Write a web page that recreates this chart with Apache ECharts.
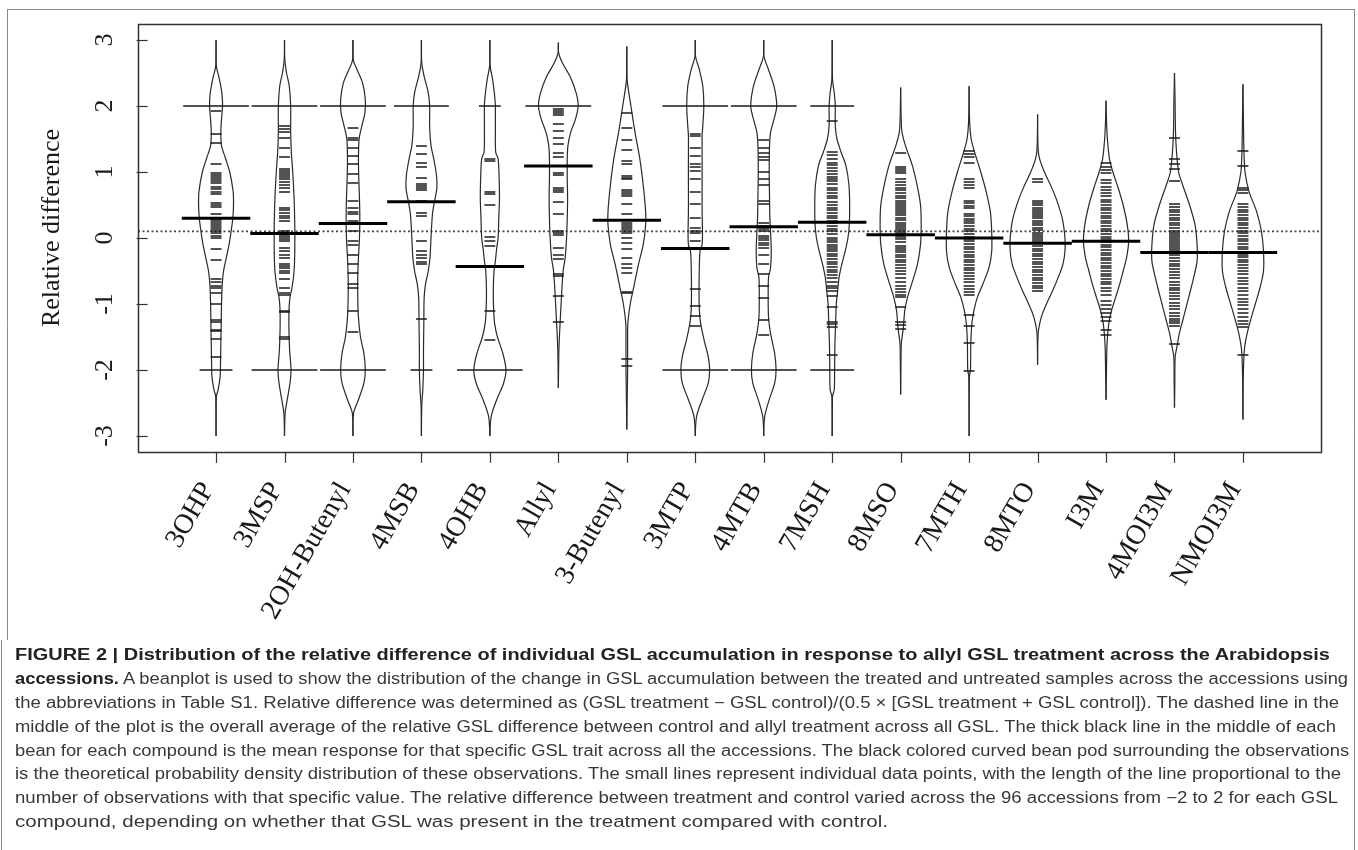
<!DOCTYPE html>
<html><head><meta charset="utf-8">
<script src="https://cdn.jsdelivr.net/npm/echarts@6/dist/echarts.min.js"></script>
<style>
html,body{margin:0;padding:0;background:#fff;}
#wrap{position:relative;width:1358px;height:850px;overflow:hidden;background:#fff;}
#chart{position:absolute;left:0;top:0;width:1358px;height:850px;}
.cap{position:absolute;left:15px;white-space:nowrap;font-family:"Liberation Sans",Arial,sans-serif;font-size:16px;color:#383838;transform-origin:0 50%;line-height:20px;height:20px;}
.cap b{color:#222;}
</style></head>
<body>
<div id="wrap">
<div id="chart"></div>
<div class="cap" id="c1" data-end="1330" style="top:645px"><b>FIGURE 2 | Distribution of the relative difference of individual GSL accumulation in response to allyl GSL treatment across the Arabidopsis</b></div>
<div class="cap" id="c2" data-end="1348" style="top:669px"><b>accessions.</b> A beanplot is used to show the distribution of the change in GSL accumulation between the treated and untreated samples across the accessions using</div>
<div class="cap" id="c3" data-end="1339" style="top:693px">the abbreviations in Table S1. Relative difference was determined as (GSL treatment − GSL control)/(0.5 × [GSL treatment + GSL control]). The dashed line in the</div>
<div class="cap" id="c4" data-end="1336" style="top:717px">middle of the plot is the overall average of the relative GSL difference between control and allyl treatment across all GSL. The thick black line in the middle of each</div>
<div class="cap" id="c5" data-end="1349" style="top:741px">bean for each compound is the mean response for that specific GSL trait across all the accessions. The black colored curved bean pod surrounding the observations</div>
<div class="cap" id="c6" data-end="1341" style="top:764px">is the theoretical probability density distribution of these observations. The small lines represent individual data points, with the length of the line proportional to the</div>
<div class="cap" id="c7" data-end="1338" style="top:788px">number of observations with that specific value. The relative difference between treatment and control varied across the 96 accessions from −2 to 2 for each GSL</div>
<div class="cap" id="c8" data-end="888" style="top:812px">compound, depending on whether that GSL was present in the treatment compared with control.</div>
</div>
<script>
// ---------------- data ----------------
const categories = ['3OHP','3MSP','2OH-Butenyl','4MSB','4OHB','Allyl','3-Butenyl','3MTP','4MTB','7MSH','8MSO','7MTH','8MTO','I3M','4MOI3M','NMOI3M'];
const yTicks = [-3,-2,-1,0,1,2,3];
const beanMeans = [0.30,0.07,0.22,0.55,-0.43,1.09,0.27,-0.16,0.17,0.24,0.05,0.0,-0.08,-0.05,-0.22,-0.22];
const overallMean = 0.1;

// density outline of each bean: [value, half width]
const beanDensity = [
 [[3.0,0],[2.6,0.005],[2.45,0.04],[2.2,0.085],[2.0,0.095],[1.8,0.08],[1.6,0.07],[1.4,0.08],[1.2,0.14],[1.0,0.2],[0.7,0.25],[0.5,0.255],[0.3,0.245],[0.1,0.22],[-0.1,0.19],[-0.3,0.15],[-0.5,0.11],[-0.7,0.09],[-1.0,0.08],[-1.3,0.075],[-1.6,0.07],[-1.9,0.065],[-2.1,0.06],[-2.3,0.03],[-2.4,0.005],[-3.0,0]],
 [[3.0,0],[2.7,0.005],[2.5,0.03],[2.3,0.07],[2.0,0.09],[1.6,0.09],[1.3,0.1],[1.0,0.12],[0.6,0.14],[0.2,0.15],[-0.2,0.15],[-0.5,0.14],[-0.75,0.11],[-0.9,0.08],[-1.1,0.065],[-1.4,0.065],[-1.7,0.075],[-2.0,0.095],[-2.2,0.08],[-2.45,0.04],[-2.65,0.01],[-3.0,0]],
 [[3.0,0],[2.7,0.005],[2.55,0.06],[2.35,0.14],[2.1,0.18],[1.9,0.175],[1.7,0.13],[1.5,0.09],[1.2,0.08],[0.9,0.085],[0.6,0.095],[0.3,0.1],[0.0,0.095],[-0.3,0.08],[-0.6,0.07],[-0.9,0.07],[-1.2,0.08],[-1.5,0.11],[-1.75,0.16],[-2.0,0.18],[-2.2,0.16],[-2.45,0.08],[-2.65,0.01],[-3.0,0]],
 [[3.0,0],[2.65,0.005],[2.45,0.04],[2.2,0.1],[2.0,0.12],[1.7,0.12],[1.4,0.14],[1.2,0.18],[0.95,0.22],[0.75,0.225],[0.55,0.19],[0.35,0.16],[0.0,0.14],[-0.3,0.125],[-0.5,0.1],[-0.7,0.06],[-0.9,0.04],[-1.3,0.035],[-1.7,0.03],[-2.0,0.03],[-2.3,0.02],[-2.55,0.005],[-3.0,0]],
 [[3.0,0],[2.6,0.005],[2.4,0.04],[2.15,0.07],[2.0,0.08],[1.6,0.08],[1.3,0.085],[1.2,0.12],[0.9,0.135],[0.6,0.14],[0.3,0.13],[0.0,0.12],[-0.15,0.1],[-0.35,0.08],[-0.5,0.06],[-0.8,0.05],[-1.1,0.055],[-1.3,0.07],[-1.5,0.11],[-1.75,0.19],[-2.0,0.235],[-2.2,0.2],[-2.45,0.1],[-2.7,0.02],[-3.0,0]],
 [[2.96,0],[2.8,0.005],[2.65,0.06],[2.45,0.17],[2.2,0.26],[2.0,0.29],[1.8,0.25],[1.6,0.18],[1.4,0.14],[1.2,0.13],[0.9,0.13],[0.6,0.135],[0.3,0.13],[0.0,0.12],[-0.3,0.1],[-0.5,0.07],[-0.8,0.05],[-1.1,0.035],[-1.4,0.02],[-1.7,0.008],[-2.27,0]],
 [[2.9,0],[2.4,0.005],[2.2,0.03],[2.0,0.06],[1.6,0.12],[1.2,0.19],[0.8,0.24],[0.4,0.275],[0.2,0.275],[-0.1,0.24],[-0.4,0.17],[-0.65,0.12],[-0.8,0.09],[-1.0,0.05],[-1.3,0.015],[-1.6,0.012],[-2.0,0.012],[-2.25,0.008],[-2.9,0]],
 [[3.0,0],[2.75,0.005],[2.55,0.06],[2.3,0.11],[2.0,0.125],[1.7,0.11],[1.55,0.1],[1.2,0.1],[0.8,0.1],[0.4,0.1],[0.1,0.105],[-0.1,0.1],[-0.2,0.07],[-0.4,0.06],[-0.8,0.055],[-1.1,0.06],[-1.3,0.08],[-1.55,0.13],[-1.8,0.19],[-2.0,0.21],[-2.2,0.19],[-2.45,0.1],[-2.7,0.02],[-3.0,0]],
 [[3.0,0],[2.75,0.005],[2.55,0.07],[2.3,0.15],[2.0,0.19],[1.8,0.15],[1.6,0.1],[1.4,0.085],[1.0,0.08],[0.6,0.085],[0.3,0.09],[0.1,0.1],[-0.2,0.11],[-0.45,0.1],[-0.6,0.07],[-0.9,0.065],[-1.2,0.07],[-1.45,0.1],[-1.75,0.16],[-2.0,0.18],[-2.2,0.16],[-2.45,0.08],[-2.7,0.015],[-3.0,0]],
 [[3.0,0],[2.4,0.005],[2.2,0.03],[2.0,0.045],[1.7,0.045],[1.5,0.07],[1.3,0.13],[1.1,0.2],[0.8,0.245],[0.5,0.255],[0.2,0.25],[0.0,0.23],[-0.2,0.19],[-0.4,0.14],[-0.6,0.1],[-0.8,0.08],[-1.0,0.06],[-1.3,0.05],[-1.6,0.04],[-2.0,0.035],[-2.3,0.03],[-2.4,0.005],[-3.0,0]],
 [[2.28,0],[1.8,0.008],[1.6,0.02],[1.4,0.07],[1.1,0.17],[0.8,0.24],[0.5,0.29],[0.2,0.3],[-0.1,0.29],[-0.4,0.245],[-0.7,0.16],[-0.9,0.1],[-1.1,0.06],[-1.35,0.04],[-1.6,0.01],[-1.85,0.005],[-2.37,0]],
 [[2.3,0],[1.75,0.008],[1.5,0.03],[1.3,0.08],[1.0,0.17],[0.7,0.25],[0.4,0.31],[0.1,0.33],[-0.2,0.33],[-0.45,0.29],[-0.7,0.2],[-0.9,0.12],[-1.1,0.07],[-1.3,0.04],[-1.6,0.025],[-2.0,0.02],[-2.1,0.005],[-3.0,0]],
 [[1.87,0],[1.35,0.008],[1.2,0.03],[1.0,0.1],[0.8,0.19],[0.6,0.27],[0.3,0.36],[0.0,0.4],[-0.2,0.4],[-0.4,0.37],[-0.6,0.3],[-0.8,0.22],[-1.0,0.13],[-1.15,0.07],[-1.3,0.03],[-1.45,0.008],[-1.92,0]],
 [[2.08,0],[1.75,0.008],[1.5,0.02],[1.2,0.05],[1.0,0.1],[0.75,0.18],[0.5,0.25],[0.2,0.31],[-0.05,0.33],[-0.3,0.3],[-0.5,0.25],[-0.7,0.2],[-0.9,0.14],[-1.1,0.08],[-1.3,0.04],[-1.6,0.015],[-1.9,0.008],[-2.45,0]],
 [[2.5,0],[2.1,0.008],[1.6,0.015],[1.3,0.03],[1.0,0.06],[0.8,0.12],[0.5,0.22],[0.2,0.3],[-0.1,0.33],[-0.35,0.33],[-0.6,0.28],[-0.85,0.22],[-1.05,0.17],[-1.25,0.12],[-1.45,0.07],[-1.65,0.035],[-1.8,0.01],[-2.2,0.005],[-2.57,0]],
 [[2.33,0],[1.7,0.008],[1.3,0.015],[1.0,0.03],[0.7,0.09],[0.4,0.2],[0.1,0.27],[-0.2,0.3],[-0.5,0.3],[-0.75,0.25],[-1.0,0.18],[-1.25,0.11],[-1.45,0.06],[-1.7,0.02],[-2.1,0.005],[-2.75,0]]
];

// observations of each bean: [value, number of accessions]
const beanObs = [
 [[2,6],[1.92,1],[1.57,1],[1.44,1],[1.12,1],[0.99,1],[0.96,1],[0.93,1],[0.9,1],[0.87,1],[0.84,1],[0.78,1],[0.74,1],[0.7,1],[0.66,1],[0.53,1],[0.5,1],[0.47,1],[0.36,1],[0.29,1],[0.26,1],[0.23,1],[0.2,1],[0.17,1],[0.14,1],[0.11,1],[0.07,1],[0.03,1],[0.0,1],[-0.17,1],[-0.33,1],[-0.62,1],[-0.66,1],[-0.72,1],[-0.76,1],[-0.84,1],[-1.0,1],[-1.24,1],[-1.28,1],[-1.39,1],[-1.41,1],[-1.53,1],[-1.8,1],[-2,3]],
 [[2,6],[1.7,1],[1.65,1],[1.6,1],[1.51,1],[1.37,1],[1.22,1],[1.04,1],[1.01,1],[0.98,1],[0.95,1],[0.92,1],[0.89,1],[0.85,1],[0.8,1],[0.76,1],[0.69,1],[0.46,1],[0.43,1],[0.38,1],[0.34,1],[0.31,1],[0.26,1],[0.1,1],[0.07,1],[0.04,1],[0.01,1],[-0.02,1],[-0.05,1],[-0.15,1],[-0.2,1],[-0.25,1],[-0.3,1],[-0.4,1],[-0.43,1],[-0.46,1],[-0.5,1],[-0.53,1],[-0.62,1],[-0.75,1],[-0.83,1],[-0.86,1],[-1.1,1],[-1.12,1],[-1.5,1],[-1.53,1],[-2,6]],
 [[2,6],[1.66,1],[1.52,1],[1.48,1],[1.37,1],[1.24,1],[1.12,1],[0.97,1],[0.84,1],[0.56,1],[0.46,1],[0.4,1],[0.36,1],[0.26,1],[0.1,1],[-0.05,1],[-0.1,1],[-0.25,1],[-0.4,1],[-0.53,1],[-0.7,1],[-0.76,1],[-1.1,1],[-1.43,1],[-2,6]],
 [[2,5],[1.39,1],[1.27,1],[1.14,1],[1.07,1],[0.91,1],[0.82,1],[0.79,1],[0.76,1],[0.72,1],[0.56,1],[0.38,1],[0.33,1],[-0.05,1],[-0.2,1],[-0.25,1],[-0.3,1],[-0.36,1],[-0.4,1],[-1.23,1],[-2,2]],
 [[2,2],[1.19,1],[1.17,1],[0.69,1],[0.66,1],[0.5,1],[0.01,1],[-0.05,1],[-0.12,1],[-1.11,1],[-1.55,1],[-2,6]],
 [[2,6],[1.95,1],[1.92,1],[1.9,1],[1.87,1],[1.72,1],[1.62,1],[1.52,1],[1.42,1],[1.29,1],[1.22,1],[1.09,1],[0.99,1],[0.96,1],[0.76,1],[0.72,1],[0.69,1],[0.54,1],[0.36,1],[0.1,1],[0.07,1],[0.04,1],[-0.15,1],[-0.25,1],[-0.32,1],[-0.55,1],[-0.58,1],[-0.88,1],[-1.28,1]],
 [[1.9,1],[1.67,1],[1.49,1],[1.34,1],[1.17,1],[1.12,1],[0.94,1],[0.91,1],[0.89,1],[0.72,1],[0.7,1],[0.67,1],[0.64,1],[0.51,1],[0.36,1],[0.23,1],[0.2,1],[0.17,1],[0.13,1],[0.1,1],[0.07,1],[0.0,1],[-0.07,1],[-0.17,1],[-0.3,1],[-0.4,1],[-0.45,1],[-0.53,1],[-0.82,1],[-0.84,1],[-1.84,1],[-1.94,1]],
 [[2,6],[1.57,1],[1.55,1],[1.37,1],[1.24,1],[1.12,1],[1.07,1],[1.02,1],[0.89,1],[0.69,1],[0.51,1],[0.31,1],[0.15,1],[0.11,1],[0.07,1],[-0.05,1],[-0.15,1],[-0.78,1],[-1.03,1],[-1.18,1],[-1.33,1],[-2,6]],
 [[2,6],[1.49,1],[1.37,1],[1.29,1],[1.22,1],[1.18,1],[1.0,1],[0.89,1],[0.81,1],[0.56,1],[0.51,1],[0.23,1],[0.18,1],[0.14,1],[0.1,1],[0.03,1],[0.0,1],[-0.03,1],[-0.07,1],[-0.1,1],[-0.15,1],[-0.25,1],[-0.4,1],[-0.55,1],[-0.73,1],[-0.91,1],[-1.24,1],[-1.47,1],[-2,6]],
 [[2,4],[1.77,1],[1.3,1],[1.26,1],[1.2,1],[1.14,1],[1.1,1],[1.06,1],[1.02,1],[0.97,1],[0.93,1],[0.9,1],[0.86,1],[0.82,1],[0.76,1],[0.72,1],[0.68,1],[0.64,1],[0.6,1],[0.55,1],[0.5,1],[0.46,1],[0.42,1],[0.38,1],[0.34,1],[0.3,1],[0.26,1],[0.22,1],[0.18,1],[0.14,1],[0.11,1],[0.06,1],[0.0,1],[-0.03,1],[-0.06,1],[-0.1,1],[-0.13,1],[-0.16,1],[-0.2,1],[-0.24,1],[-0.28,1],[-0.32,1],[-0.36,1],[-0.4,1],[-0.44,1],[-0.48,1],[-0.52,1],[-0.56,1],[-0.6,1],[-0.66,1],[-0.72,1],[-0.76,1],[-0.8,1],[-0.88,1],[-1.05,1],[-1.28,1],[-1.31,1],[-1.35,1],[-1.78,1],[-2,4]],
 [[1.29,1],[1.07,1],[1.04,1],[1.01,1],[0.98,1],[0.9,1],[0.85,1],[0.8,1],[0.76,1],[0.72,1],[0.68,1],[0.64,1],[0.6,1],[0.56,1],[0.53,1],[0.5,1],[0.47,1],[0.44,1],[0.41,1],[0.38,1],[0.35,1],[0.31,1],[0.27,1],[0.23,1],[0.2,1],[0.17,1],[0.14,1],[0.11,1],[0.08,1],[0.05,1],[0.02,1],[-0.02,1],[-0.06,1],[-0.12,1],[-0.15,1],[-0.18,1],[-0.21,1],[-0.25,1],[-0.29,1],[-0.33,1],[-0.37,1],[-0.41,1],[-0.45,1],[-0.5,1],[-0.55,1],[-0.6,1],[-0.66,1],[-0.72,1],[-0.78,1],[-0.82,1],[-0.87,1],[-0.9,1],[-1.05,1],[-1.28,1],[-1.32,1],[-1.38,1]],
 [[1.32,1],[1.27,1],[1.22,1],[1.14,1],[0.89,1],[0.85,1],[0.8,1],[0.76,1],[0.56,1],[0.53,1],[0.49,1],[0.46,1],[0.36,1],[0.33,1],[0.29,1],[0.26,1],[0.22,1],[0.18,1],[0.14,1],[0.1,1],[0.06,1],[0.02,1],[-0.02,1],[-0.05,1],[-0.09,1],[-0.13,1],[-0.17,1],[-0.21,1],[-0.25,1],[-0.29,1],[-0.33,1],[-0.37,1],[-0.41,1],[-0.45,1],[-0.49,1],[-0.53,1],[-0.57,1],[-0.62,1],[-0.67,1],[-0.72,1],[-0.77,1],[-0.82,1],[-0.86,1],[-1.16,1],[-1.33,1],[-1.59,1],[-2.02,1]],
 [[0.9,1],[0.85,1],[0.56,1],[0.53,1],[0.5,1],[0.46,1],[0.43,1],[0.4,1],[0.36,1],[0.33,1],[0.3,1],[0.26,1],[0.22,1],[0.19,1],[0.15,1],[0.12,1],[0.08,1],[0.05,1],[0.02,1],[-0.02,1],[-0.05,1],[-0.08,1],[-0.12,1],[-0.16,1],[-0.2,1],[-0.24,1],[-0.28,1],[-0.32,1],[-0.36,1],[-0.4,1],[-0.44,1],[-0.48,1],[-0.52,1],[-0.56,1],[-0.6,1],[-0.64,1],[-0.68,1],[-0.72,1],[-0.76,1],[-0.8,1]],
 [[1.13,1],[1.08,1],[1.03,1],[0.99,1],[0.88,1],[0.83,1],[0.78,1],[0.72,1],[0.68,1],[0.64,1],[0.58,1],[0.54,1],[0.5,1],[0.46,1],[0.42,1],[0.38,1],[0.34,1],[0.3,1],[0.26,1],[0.22,1],[0.18,1],[0.14,1],[0.1,1],[0.06,1],[0.02,1],[-0.02,1],[-0.06,1],[-0.1,1],[-0.14,1],[-0.18,1],[-0.22,1],[-0.26,1],[-0.3,1],[-0.34,1],[-0.38,1],[-0.42,1],[-0.46,1],[-0.5,1],[-0.54,1],[-0.58,1],[-0.62,1],[-0.66,1],[-0.7,1],[-0.75,1],[-0.8,1],[-0.86,1],[-0.96,1],[-1.02,1],[-1.08,1],[-1.14,1],[-1.2,1],[-1.26,1],[-1.4,1],[-1.47,1]],
 [[1.52,1],[1.19,1],[1.12,1],[1.04,1],[0.86,1],[0.51,1],[0.47,1],[0.43,1],[0.39,1],[0.35,1],[0.31,1],[0.27,1],[0.23,1],[0.19,1],[0.15,1],[0.11,1],[0.07,1],[0.04,1],[0.01,1],[-0.02,1],[-0.05,1],[-0.08,1],[-0.11,1],[-0.14,1],[-0.17,1],[-0.2,1],[-0.23,1],[-0.26,1],[-0.3,1],[-0.35,1],[-0.39,1],[-0.43,1],[-0.47,1],[-0.51,1],[-0.56,1],[-0.61,1],[-0.66,1],[-0.71,1],[-0.75,1],[-0.79,1],[-0.83,1],[-0.88,1],[-0.93,1],[-0.98,1],[-1.03,1],[-1.08,1],[-1.13,1],[-1.18,1],[-1.22,1],[-1.26,1],[-1.29,1],[-1.33,1],[-1.61,1]],
 [[1.32,1],[1.09,1],[0.76,1],[0.72,1],[0.68,1],[0.51,1],[0.47,1],[0.43,1],[0.39,1],[0.35,1],[0.31,1],[0.27,1],[0.23,1],[0.19,1],[0.15,1],[0.11,1],[0.07,1],[0.03,1],[-0.01,1],[-0.05,1],[-0.09,1],[-0.13,1],[-0.17,1],[-0.21,1],[-0.25,1],[-0.29,1],[-0.33,1],[-0.37,1],[-0.41,1],[-0.45,1],[-0.5,1],[-0.55,1],[-0.6,1],[-0.65,1],[-0.7,1],[-0.75,1],[-0.8,1],[-0.86,1],[-0.92,1],[-0.97,1],[-1.02,1],[-1.08,1],[-1.14,1],[-1.2,1],[-1.26,1],[-1.31,1],[-1.35,1],[-1.77,1]]
];

// ---------------- chart ----------------
const xLim = [-0.14, 17.14];
const yLim = [-3.24, 3.24];
const chart = echarts.init(document.getElementById('chart'), null, {renderer:'canvas'});
const serif = '"Liberation Serif","Times New Roman",serif';
const INK = '#1a1a1a';

function renderBean(params, api){
  const i = params.dataIndex;
  const cx = api.value(0);
  const children = [];
  const dens = beanDensity[i];
  const right = dens.map(d => api.coord([cx + d[1], d[0]]));
  const left = dens.map(d => api.coord([cx - d[1], d[0]]));
  children.push({type:'polyline', shape:{points:right, smooth:0.3}, style:{stroke:'#2a2a2a', lineWidth:1.2, fill:null}});
  children.push({type:'polyline', shape:{points:left, smooth:0.3}, style:{stroke:'#2a2a2a', lineWidth:1.2, fill:null}});
  beanObs[i].forEach(o => {
    const h = Math.min(o[1] * 0.08, 0.48);
    const a = api.coord([cx - h, o[0]]), b = api.coord([cx + h, o[0]]);
    const y = Math.round(a[1]);
    children.push({type:'line', shape:{x1:a[0], y1:y, x2:b[0], y2:y}, style:{stroke:INK, lineWidth:1.5}});
  });
  const m1 = api.coord([cx - 0.5, beanMeans[i]]), m2 = api.coord([cx + 0.5, beanMeans[i]]);
  children.push({type:'line', shape:{x1:m1[0], y1:m1[1], x2:m2[0], y2:m2[1]}, style:{stroke:'#000', lineWidth:3}});
  const t = api.coord([cx, yLim[0]]);
  const tx = Math.round(t[0]) + 0.5;
  children.push({type:'line', shape:{x1:tx, y1:t[1], x2:tx, y2:t[1] + 11}, style:{stroke:'#333', lineWidth:1.2}});
  children.push({type:'text', x:t[0] - 8, y:t[1] + 33, rotation:Math.PI/3,
    style:{text:categories[i], fontFamily:serif, fontSize:28, fill:INK, align:'right', verticalAlign:'middle'}});
  return {type:'group', children};
}

function renderBox(params, api){
  const a = api.coord([xLim[0], yLim[1]]), b = api.coord([xLim[1], yLim[0]]);
  return {type:'rect', shape:{x:Math.round(a[0])+0.5, y:Math.round(a[1])+0.5, width:Math.round(b[0]-a[0]), height:Math.round(b[1]-a[1])},
    style:{stroke:'#333', lineWidth:1.5, fill:null}};
}

const option = {
  animation:false,
  backgroundColor:'#fff',
  grid:{left:138, right:37, top:40, bottom:414, containLabel:false},
  xAxis:{type:'value', min:xLim[0], max:xLim[1], show:false},
  yAxis:{type:'value', min:-3, max:3, interval:1,
    axisLine:{show:false},
    axisTick:{show:true, length:11, lineStyle:{color:'#333', width:1.2}},
    splitLine:{show:false},
    axisLabel:{rotate:90, margin:20, fontFamily:serif, fontSize:26, color:INK,
      formatter: v => yTicks.indexOf(v) >= 0 ? String(v) : ''}},
  graphic:[
    {type:'text', x:52, y:228, rotation:Math.PI/2,
      style:{text:'Relative difference', fontFamily:serif, fontSize:26, fill:INK, align:'center', verticalAlign:'middle'}},
    {type:'line', shape:{x1:7, y1:9.5, x2:1355, y2:9.5}, style:{stroke:'#8a8a8a', lineWidth:1}},
    {type:'line', shape:{x1:7.5, y1:9, x2:7.5, y2:640}, style:{stroke:'#8a8a8a', lineWidth:1}},
    {type:'line', shape:{x1:1354.5, y1:9, x2:1354.5, y2:850}, style:{stroke:'#8a8a8a', lineWidth:1}},
    {type:'line', shape:{x1:1.5, y1:640, x2:1.5, y2:850}, style:{stroke:'#8a8a8a', lineWidth:1}}
  ],
  series:[
    {type:'line', data:[[xLim[0], overallMean],[xLim[1], overallMean]], symbol:'none', silent:true,
      lineStyle:{color:'#444', width:1.6, type:[2,2.5]}, z:1},
    {type:'custom', clip:false, data:[[0]], renderItem:renderBox, silent:true, z:2},
    {type:'custom', clip:false, data:categories.map((c,i) => [i + 1]), renderItem:renderBean, silent:true, z:3}
  ]
};
chart.setOption(option);

// fit caption lines to their measured widths
document.querySelectorAll('.cap').forEach(el => {
  const target = parseFloat(el.dataset.end) - 15;
  const w = el.getBoundingClientRect().width;
  if (w > 0) el.style.transform = 'scaleX(' + (target / w).toFixed(4) + ')';
});
</script>
</body></html>
